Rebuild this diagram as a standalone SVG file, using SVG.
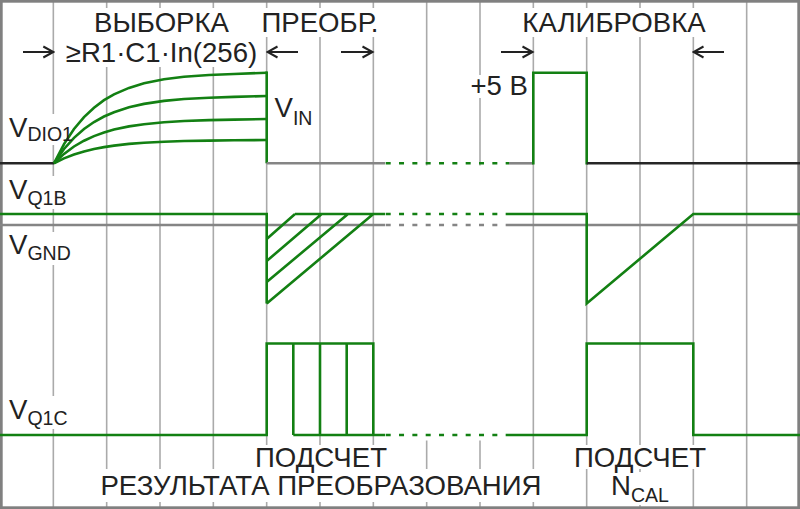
<svg xmlns="http://www.w3.org/2000/svg" width="800" height="509" viewBox="0 0 800 509">
<style>
.grid{stroke:#aaaaaa;stroke-width:1.6;fill:none}
.mask{fill:#ffffff}
.g{stroke:#138013;stroke-width:2.6;fill:none;stroke-linejoin:miter}
.gd{stroke:#138013;stroke-width:2.6;fill:none;stroke-dasharray:5 8.33}
.gr{stroke:#858585;stroke-width:2.6;fill:none}
.grd{stroke:#858585;stroke-width:2.6;fill:none;stroke-dasharray:5 8.33}
.bk{stroke:#262626;stroke-width:2.6;fill:none}
.t{font-family:"Liberation Sans",Arial,sans-serif;font-size:27.6px;fill:#222222}
.s{font-size:19.5px}
.ar{stroke:#222222;stroke-width:2;fill:none}
</style>
<defs>
<marker id="ah" viewBox="-12 -7 14 14" refX="0" refY="0" markerWidth="14" markerHeight="14" markerUnits="userSpaceOnUse" orient="auto">
<path d="M-10,-5.5 L0,0 L-10,5.5" fill="none" stroke="#222222" stroke-width="2"/>
</marker>
</defs>
<rect x="0" y="0" width="800" height="509" fill="#ffffff"/>
<g id="grid">
<line class="grid" x1="53.33" y1="0" x2="53.33" y2="509"/>
<line class="grid" x1="106.67" y1="0" x2="106.67" y2="509"/>
<line class="grid" x1="160" y1="0" x2="160" y2="509"/>
<line class="grid" x1="213.33" y1="0" x2="213.33" y2="509"/>
<line class="grid" x1="266.67" y1="0" x2="266.67" y2="509"/>
<line class="grid" x1="320" y1="0" x2="320" y2="509"/>
<line class="grid" x1="373.33" y1="0" x2="373.33" y2="509"/>
<line class="grid" x1="426.67" y1="0" x2="426.67" y2="509"/>
<line class="grid" x1="480" y1="0" x2="480" y2="509"/>
<line class="grid" x1="533.33" y1="0" x2="533.33" y2="509"/>
<line class="grid" x1="586.67" y1="0" x2="586.67" y2="509"/>
<line class="grid" x1="640" y1="0" x2="640" y2="509"/>
<line class="grid" x1="693.33" y1="0" x2="693.33" y2="509"/>
<line class="grid" x1="746.67" y1="0" x2="746.67" y2="509"/>
</g>
<g id="masks">
<rect class="mask" x="386" y="165.5" width="122" height="275"/>
<rect class="mask" x="88" y="8" width="148" height="29"/>
<rect class="mask" x="62" y="37" width="200" height="30"/>
<rect class="mask" x="259" y="8" width="123" height="29"/>
<rect class="mask" x="519" y="8" width="191" height="29"/>
<rect class="mask" x="469" y="75" width="61" height="23"/>
<rect class="mask" x="6" y="114" width="68" height="31"/>
<rect class="mask" x="6" y="176" width="62" height="33"/>
<rect class="mask" x="6" y="232" width="66" height="33"/>
<rect class="mask" x="6" y="396" width="64" height="33"/>
<rect class="mask" x="253" y="445" width="136" height="24"/>
<rect class="mask" x="97" y="469" width="448" height="33"/>
<rect class="mask" x="572" y="445" width="137" height="24"/>
<rect class="mask" x="610" y="472" width="61" height="33"/>
</g>
<g id="border">
<rect x="1.35" y="1.35" width="797.3" height="506.3" fill="none" stroke="#808080" stroke-width="2.7"/>
</g>
<g id="v-gnd-ref">
<line class="gr" x1="0" y1="225" x2="385" y2="225"/>
<line class="grd" x1="385.7" y1="225" x2="509" y2="225"/>
<line class="gr" x1="509" y1="225" x2="800" y2="225"/>
</g>
<g id="v-dio1">
<line class="bk" x1="0" y1="163.3" x2="54" y2="163.3"/>
<polyline class="g" points="54,163.3 64,144.1 74,129 84,117.1 94,107.7 104,100.2 114,94.4 129,87.9 144,83.3 164,79.3 184,76.8 209,75 234,74 266.7,72.7"/>
<polyline class="g" points="54,163.3 64,149 74,137.8 84,129 94,122 104,116.5 114,112.2 129,107.3 144,103.9 164,100.9 184,99 209,97.7 234,96.9 266.7,96"/>
<polyline class="g" points="54,163.3 64,153.9 74,146.5 84,140.7 94,136.1 104,132.5 114,129.6 129,126.4 144,124.2 164,122.2 184,121 209,120.1 234,119.6 266.7,119"/>
<polyline class="g" points="54,163.3 64,158.4 74,154.5 84,151.4 94,149 104,147.1 114,145.6 129,143.9 144,142.7 164,141.7 184,141 209,140.6 234,140.3 266.7,140"/>
<line class="g" x1="266.7" y1="71.4" x2="266.7" y2="163.3"/>
<line class="gr" x1="266.7" y1="163.3" x2="385" y2="163.3"/>
<line class="gd" x1="385.7" y1="163.3" x2="509" y2="163.3"/>
<line class="gr" x1="509" y1="163.3" x2="533.3" y2="163.3"/>
<path class="g" d="M533.3,164.6 V72.7 H586.7 V164.6"/>
<line class="bk" x1="586.7" y1="163.3" x2="800" y2="163.3"/>
</g>
<g id="v-q1b">
<path class="g" d="M0,214 H266.7 V303.5"/>
<path class="g" d="M266.7,239 L295,214 M266.7,261 L321.7,214 M266.7,282 L348,214 M266.7,303.5 L373.3,214 M295,214 H385"/>
<line class="gd" x1="385.7" y1="214" x2="509" y2="214"/>
<path class="g" d="M509,214 H586.7 V303.5 L693.3,214 H800"/>
</g>
<g id="v-q1c">
<path class="g" d="M0,435 H266.7 V343.5 H373.3 V435 M293.3,435 V343.5 M320,343.5 V435 M346.7,343.5 V435 M293.3,435 H385"/>
<line class="gd" x1="385.7" y1="435" x2="509" y2="435"/>
<path class="g" d="M509,435 H586.7 V343.5 H693.3 V435 H800"/>
</g>
<g id="arrows">
<line class="ar" x1="23" y1="52" x2="53.3" y2="52" marker-end="url(#ah)"/>
<line class="ar" x1="298" y1="52" x2="267.5" y2="52" marker-end="url(#ah)"/>
<line class="ar" x1="341" y1="52" x2="372.5" y2="52" marker-end="url(#ah)"/>
<line class="ar" x1="501" y1="52" x2="532.5" y2="52" marker-end="url(#ah)"/>
<line class="ar" x1="724" y1="52" x2="693.5" y2="52" marker-end="url(#ah)"/>
</g>
<g id="labels">
<text class="t" x="161.5" y="32" text-anchor="middle">ВЫБОРКА</text>
<text class="t" x="161.5" y="62" text-anchor="middle">≥R1·C1·In(256)</text>
<text class="t" x="320" y="32" text-anchor="middle">ПРЕОБР.</text>
<text class="t" x="614" y="32" text-anchor="middle">КАЛИБРОВКА</text>
<text class="t" x="528" y="95" text-anchor="end">+5 В</text>
<text class="t" x="9" y="137">V<tspan class="s" dy="4">DIO1</tspan></text>
<text class="t" x="274.5" y="117">V<tspan class="s" dy="8">IN</tspan></text>
<text class="t" x="9" y="199">V<tspan class="s" dy="6">Q1B</tspan></text>
<text class="t" x="9" y="254">V<tspan class="s" dy="6">GND</tspan></text>
<text class="t" x="9" y="419">V<tspan class="s" dy="6">Q1C</tspan></text>
<text class="t" x="321" y="467" text-anchor="middle">ПОДСЧЕТ</text>
<text class="t" x="321" y="495" text-anchor="middle">РЕЗУЛЬТАТА ПРЕОБРАЗОВАНИЯ</text>
<text class="t" x="640" y="467" text-anchor="middle">ПОДСЧЕТ</text>
<text class="t" x="611" y="495">N<tspan class="s" dy="7">CAL</tspan></text>
</g>
</svg>
